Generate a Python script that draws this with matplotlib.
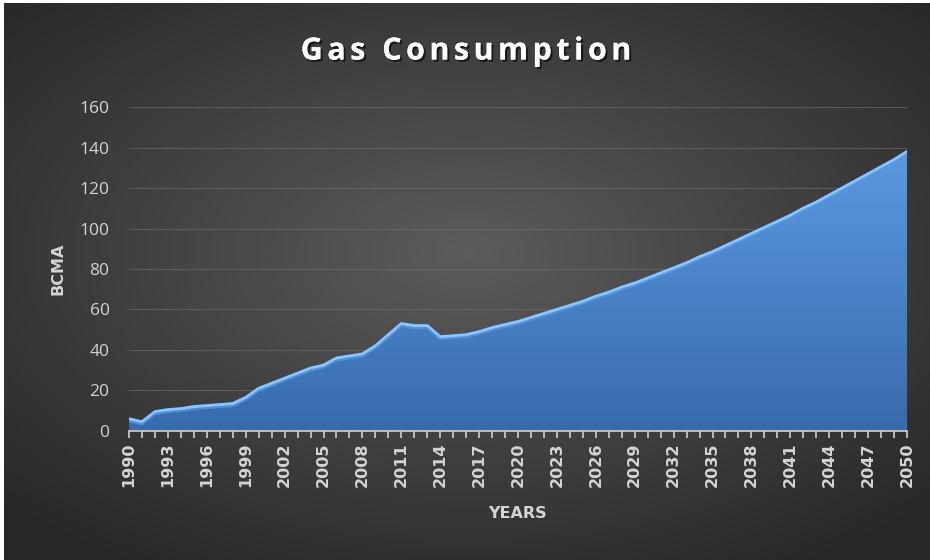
import numpy as np
import matplotlib.pyplot as plt
import matplotlib.patheffects as pe
from matplotlib.patches import Polygon

years = list(range(1990, 2051))
bcma = [6, 4.5, 9.5, 10.5, 11, 12, 12.5, 13, 13.5, 16.5,
        21, 23.5, 26, 28.5, 31, 32.5, 36, 37, 38, 42,
        47.5, 53, 52, 52, 46.5, 47, 47.5, 49, 51, 52.5,
        54, 56, 58, 60, 62, 64, 66.5, 68.5, 71, 73,
        75.5, 78, 80.5, 83, 86, 88.5, 91.5, 94.5, 97.5, 100.5,
        103.5, 106.5, 110, 113, 116.5, 120, 123.5, 127, 130.5, 134,
        138]
tick_years = list(range(1990, 2051, 3))
y_ticks = [0, 20, 40, 60, 80, 100, 120, 140, 160]
title = 'Gas Consumption'

fig = plt.figure(figsize=(9.3, 5.6), dpi=100, facecolor='white')

# radial grey background
bg = fig.add_axes([0.004, 0, 0.996, 0.995])
bg.axis('off')
gx, gy = np.meshgrid(np.linspace(-1, 1, 400), np.linspace(-1, 1, 300))
r = np.sqrt((gx * 0.95) ** 2 + ((gy + 0.1) * 1.0) ** 2)
shade = 0.36 - 0.2 * np.clip(r, 0, 1.3) / 1.3
bg.imshow(np.dstack([shade, shade, shade]), aspect='auto', extent=[0, 1, 0, 1])
bg.set_xlim(0, 1)
bg.set_ylim(0, 1)

ax = fig.add_axes([0.1387, 0.2304, 0.8366, 0.5785])
ax.set_facecolor('none')
ax.set_xlim(1990, 2050)
ax.set_ylim(0, 160)

# gradient-filled area
x = np.array(years, dtype=float)
y = np.array(bcma, dtype=float)
verts = np.column_stack([np.r_[x[0], x, x[-1]], np.r_[0, y, 0]])
poly = Polygon(verts, closed=True, facecolor='none', edgecolor='none')
ax.add_patch(poly)
grad = np.linspace(0, 1, 256).reshape(-1, 1)
top = np.array([0.36, 0.60, 0.88])
bot = np.array([0.22, 0.42, 0.68])
img = bot + (top - bot) * grad[..., None]
im = ax.imshow(img, aspect='auto', extent=[1990, 2050, 0, 140], origin='lower', zorder=2)
im.set_clip_path(poly)
ax.plot(x, y, color='#8cc4ff', lw=2.2, zorder=3, solid_joinstyle='round')
ax.plot(x, y - 1.2, color='#5a9be0', lw=1.5, zorder=3, alpha=0.7)

ax.set_yticks(y_ticks)
ax.set_xticks(tick_years)
ax.set_xticks(years, minor=True)
ax.grid(axis='y', color='#707070', lw=0.8, alpha=0.6, zorder=0)
for s in ['top', 'right', 'left']:
    ax.spines[s].set_visible(False)
ax.spines['bottom'].set_color('#d0d0d0')
ax.spines['bottom'].set_linewidth(1.2)
ax.spines['bottom'].set_zorder(4)
ax.tick_params(axis='y', length=0, pad=14, labelsize=12, labelcolor='#d4d4d4')
ax.tick_params(axis='x', which='both', direction='out', length=5, width=1.2,
               color='#d0d0d0', labelsize=11.5, labelcolor='#d4d4d4', pad=3)
for lbl in ax.get_xticklabels():
    lbl.set_rotation(90)
    lbl.set_fontweight('bold')
for lbl in ax.get_yticklabels():
    lbl.set_family('Open Sans')
    lbl.set_fontsize(12.5)

ax.set_xlabel('YEARS', color='#d4d4d4', fontsize=11.5, fontweight='bold', labelpad=14)
ax.set_ylabel('BCMA', color='#d4d4d4', fontsize=11.5, fontweight='bold', labelpad=10)

# letter-spaced title
kw = dict(color='white', fontsize=22, fontweight='bold', family='Open Sans', va='center',
          path_effects=[pe.withSimplePatchShadow(offset=(1.5, -1.5), shadow_rgbFace='black', alpha=0.6), pe.Normal()])
rend = fig.canvas.get_renderer()
def text_w(s):
    t = fig.text(0, 0, s, **kw)
    w = t.get_window_extent(rend).width
    t.remove()
    return w
spacing = 4.5
ends = [text_w(title[:i + 1]) for i in range(len(title))]
total = ends[-1] + spacing * (len(title) - 1)
x0 = 466 - total / 2
for i, ch in enumerate(title):
    if ch == ' ':
        continue
    fig.text((x0 + ends[i] + i * spacing) / 930, 0.908, ch, ha='right', **kw)

fig.savefig('out.png', dpi=100, facecolor='white')
